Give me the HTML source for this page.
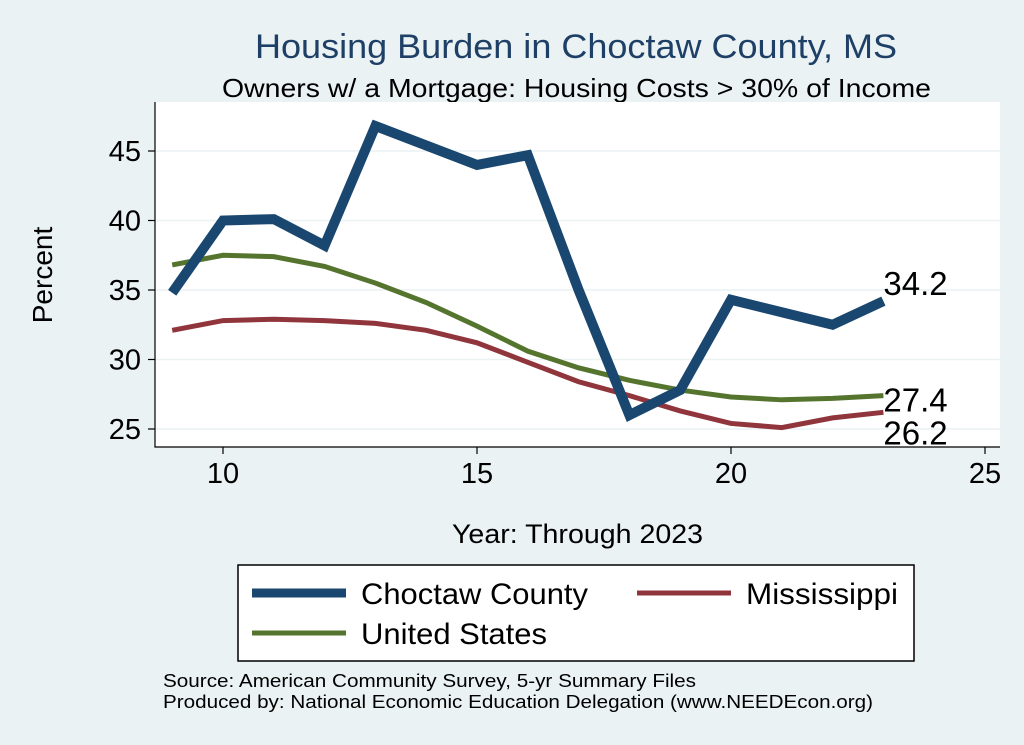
<!DOCTYPE html>
<html><head><meta charset="utf-8"><style>
body{margin:0;background:#eaf2f3;}
svg{display:block;font-family:"Liberation Sans",sans-serif;}
</style></head><body>
<svg id="c" width="1024" height="745">
<rect x="0" y="0" width="1024" height="745" fill="#eaf2f3"/>
<text x="255" y="58" font-size="34" fill="#1e3f66" textLength="642" lengthAdjust="spacingAndGlyphs">Housing Burden in Choctaw County, MS</text>
<text x="222" y="97" font-size="26" fill="#000" textLength="709" lengthAdjust="spacingAndGlyphs">Owners w/ a Mortgage: Housing Costs &gt; 30% of Income</text>
<rect x="155" y="102" width="845" height="345" fill="#fff"/>
<g id="grid"></g><g id="axes"></g><g id="series"></g>
<text x="52" y="275" font-size="28" text-anchor="middle" transform="rotate(-90 52 275)">Percent</text>
<text x="452" y="543" font-size="27" textLength="251" lengthAdjust="spacingAndGlyphs">Year: Through 2023</text>
<g>
<rect x="238" y="565" width="676" height="96" fill="#fff" stroke="#000" stroke-width="1.5"/>
<line x1="252" y1="593" x2="346" y2="593" stroke="#1a476f" stroke-width="9"/>
<text x="361" y="604" font-size="30" textLength="227" lengthAdjust="spacingAndGlyphs">Choctaw County</text>
<line x1="637" y1="593" x2="731" y2="593" stroke="#90353b" stroke-width="5"/>
<text x="746" y="604" font-size="30" textLength="152" lengthAdjust="spacingAndGlyphs">Mississippi</text>
<line x1="252" y1="633" x2="346" y2="633" stroke="#55752f" stroke-width="5"/>
<text x="361" y="644" font-size="30" textLength="186" lengthAdjust="spacingAndGlyphs">United States</text>
</g>
<text x="163" y="687" font-size="18" textLength="533" lengthAdjust="spacingAndGlyphs">Source: American Community Survey, 5-yr Summary Files</text>
<text x="163" y="708" font-size="18" textLength="710" lengthAdjust="spacingAndGlyphs">Produced by: National Economic Education Delegation (www.NEEDEcon.org)</text>
</svg>
<script>
const years=[9,10,11,12,13,14,15,16,17,18,19,20,21,22,23];
const choctaw=[34.8,40.0,40.1,38.2,46.8,45.4,44.0,44.7,35.0,26.0,27.8,34.3,33.4,32.5,34.2];
const mississippi=[32.1,32.8,32.9,32.8,32.6,32.1,31.2,29.8,28.4,27.4,26.3,25.4,25.1,25.8,26.2];
const unitedStates=[36.8,37.5,37.4,36.7,35.5,34.1,32.4,30.6,29.4,28.5,27.8,27.3,27.1,27.2,27.4];
const xTicks=[10,15,20,25];
const yTicks=[25,30,35,40,45];
const NS="http://www.w3.org/2000/svg";
const X=v=>223+(v-10)*50.8;
const Y=v=>429-(v-25)*13.9;
function mk(tag,attrs,parent){const e=document.createElementNS(NS,tag);for(const k in attrs)e.setAttribute(k,attrs[k]);document.getElementById(parent).appendChild(e);return e;}
yTicks.forEach(t=>{
 const g=mk('line',{x1:155,x2:1000,y1:Y(t),y2:Y(t),stroke:'#eaf2f3','stroke-width':1.5},'grid');
 
 
 const tk=mk('line',{x1:148,x2:155,y1:Y(t),y2:Y(t),stroke:'#000','stroke-width':1.2},'axes');
 
 
 const l=mk('text',{x:141,y:Y(t)+10,'font-size':29,'text-anchor':'end'},'axes');
 l.textContent=t;
 
 
});
xTicks.forEach(t=>{
 const tk=mk('line',{x1:X(t),x2:X(t),y1:447,y2:454,stroke:'#000','stroke-width':1.2},'axes');
 
 
 const l=mk('text',{x:X(t),y:483,'font-size':29,'text-anchor':'middle'},'axes');
 l.textContent=t;
 
 
});
const ax=mk('path',{d:'M155 102 V447 H1000',fill:'none',stroke:'#000','stroke-width':1.2},'axes');


function series(vals,color,w,name,labY){
 const p=mk('polyline',{points:years.map((y,i)=>X(y)+','+Y(vals[i])).join(' '),fill:'none',stroke:color,'stroke-width':w,'stroke-linejoin':'miter'},'series');
 
 
 const v=vals[vals.length-1];
 const t=mk('text',{x:X(years[years.length-1]),y:Y(v)+labY,'font-size':33},'series');
 t.textContent=v.toFixed(1);
 
 
}
series(mississippi,'#90353b',5,'mississippi',32);
series(unitedStates,'#55752f',5,'united-states',16);
series(choctaw,'#1a476f',10,'choctaw',-6);
</script>
</body></html>
